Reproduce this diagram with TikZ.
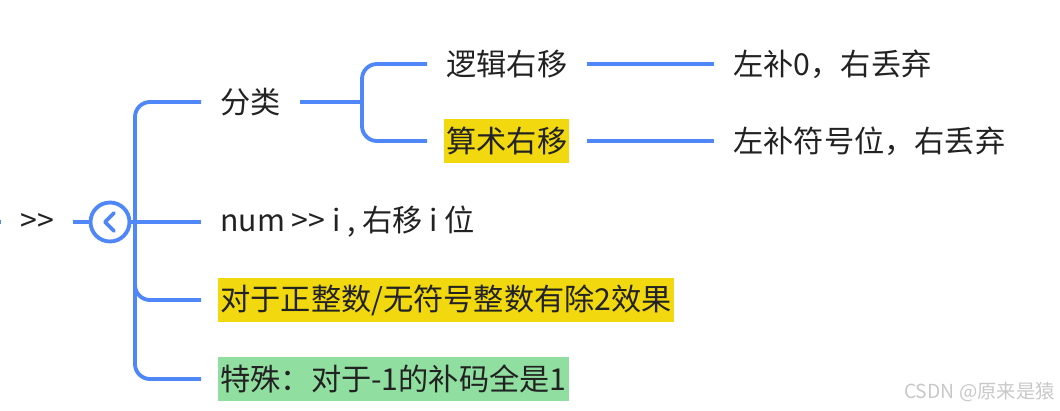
\documentclass[tikz,border=0pt]{standalone}
\usepackage{fontspec}
\newfontfamily\cjk{Noto Sans CJK SC}
\usepackage{tikz}
\usetikzlibrary{positioning,calc}
\usepackage{xcolor}
\definecolor{mmLine}{HTML}{5087F8}
\definecolor{mmText}{HTML}{222222}
\definecolor{mmYellow}{HTML}{F1D80F}
\definecolor{mmGreen}{HTML}{90DFA0}
\definecolor{mmMark}{HTML}{C8C8C8}
\tikzset{
    % Topic styles
    topic/.style={anchor=west,inner xsep=0.04cm,inner ysep=0pt,minimum height=0.88cm,text=mmText,font=\cjk\fontsize{17.2pt}{20pt}\selectfont},
    hilite/.style={topic,fill=mmYellow},
    special/.style={topic,fill=mmGreen},
    % Connector styles
    link/.style={draw=mmLine,line width=2.2pt,rounded corners=0.3cm,shorten >=0.34cm},
    fold/.style={circle,draw=mmLine,line width=2.2pt,fill=white,minimum size=0.78cm,inner sep=0pt}
}

\begin{document}
\begin{tikzpicture}[x=0.02cm,y=-0.02cm]
  \useasboundingbox (0,0) rectangle (1060,410);

  % Root topic and fold button
  \coordinate (parent) at (-40,222);
  \node[topic] (root) at (18,222) {>>};
  \node[fold] (fold) at (110,222) {};
  \draw[mmLine,line width=2.2pt,line cap=round,line join=round]
    ($(fold.center)+(4,-9)$) -- ($(fold.center)+(-5,0)$) -- ($(fold.center)+(4,9)$);
  \draw[link] (parent) -- (root.west);
  \draw[link,shorten >=0pt,shorten <=0.34cm] (root.east) -- (fold.west);

  % First level
  \coordinate (hub) at (135,222);
  \node[topic] (cat) at (218,102) {分类};
  \node[topic] (num) at (218,222) {num >> i , 右移 i 位};
  \node[hilite] (pos) at (218,300) {对于正整数/无符号整数有除2效果};
  \node[special] (spec) at (218,379) {特殊：对于-1的补码全是1};

  \draw[link] (fold.east) -- (num.west);
  \foreach \n in {cat,pos,spec}
    \draw[link] (hub) |- (\n.west);

  % Kinds of right shift
  \coordinate (split) at (362,102);
  \node[topic] (logic) at (444,64) {逻辑右移};
  \node[hilite] (arith) at (444,141) {算术右移};
  \draw[link,shorten >=0pt,shorten <=0.34cm] (cat.east) -- (split);
  \foreach \n in {logic,arith}
    \draw[link] (split) |- (\n.west);

  % What each shift fills in
  \node[topic] (zero) at (731,64) {左补0，右丢弃};
  \node[topic] (sign) at (731,141) {左补符号位，右丢弃};
  \draw[link,shorten <=0.34cm] (logic.east) -- (zero.west);
  \draw[link,shorten <=0.34cm] (arith.east) -- (sign.west);

  % Watermark
  \node[text=mmMark,font=\cjk\fontsize{11pt}{13pt}\selectfont,anchor=east,inner sep=0pt] (mark) at (1055,392) {CSDN @原来是猿};
\end{tikzpicture}
\end{document}
